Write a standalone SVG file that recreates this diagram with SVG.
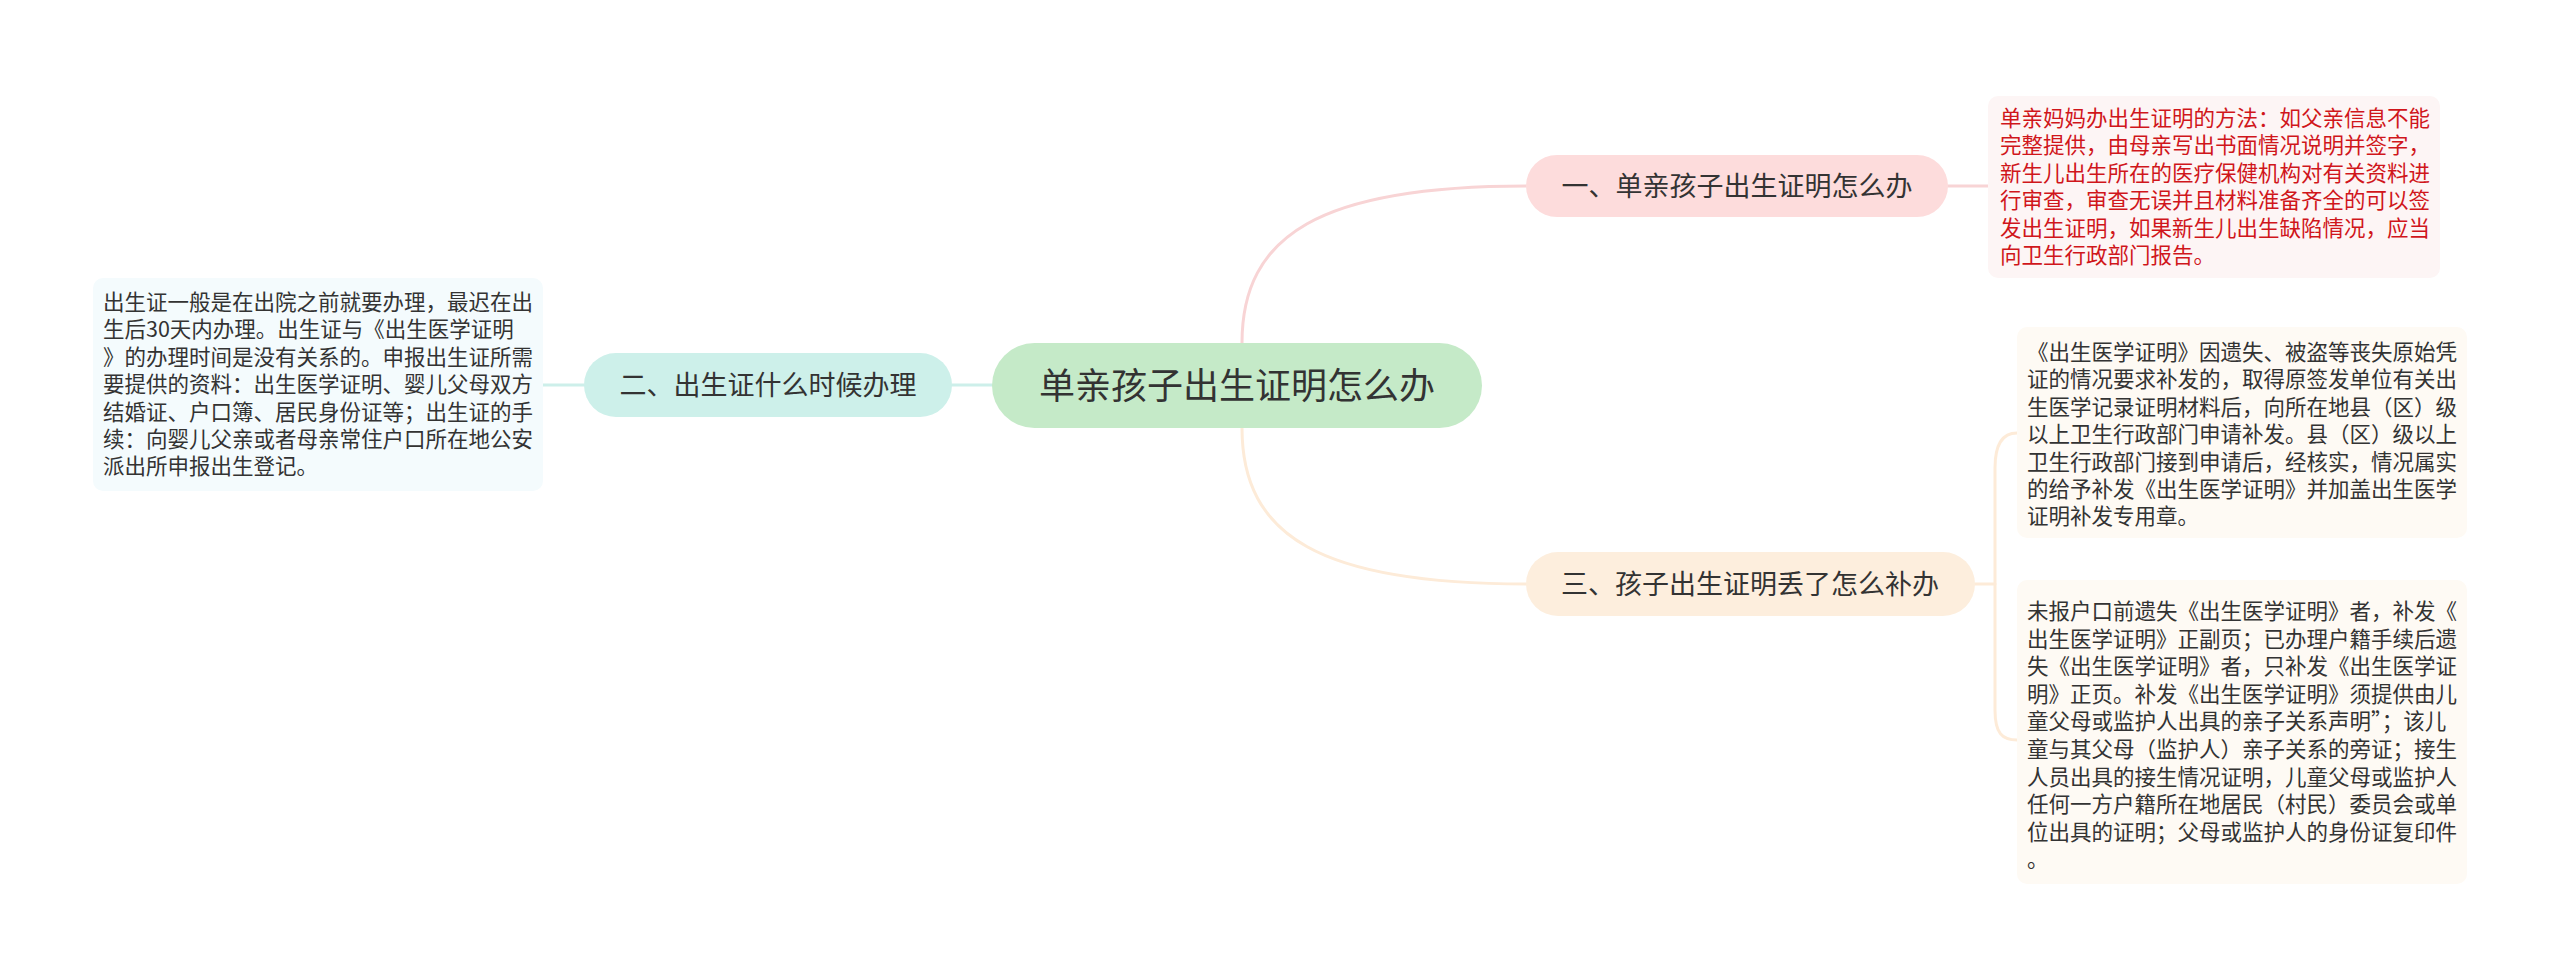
<svg xmlns="http://www.w3.org/2000/svg" width="2560" height="977" viewBox="0 0 2560 977">
<style>
text{font-family:"Noto Sans CJK SC","Noto Sans",sans-serif;}
.main{font-size:36px;fill:#333;text-anchor:middle;}
.sub{font-size:27px;fill:#333;text-anchor:middle;}
.leaf{font-size:21.5px;fill:#333;}
.red{fill:#d0161b;}
.c{fill:none;stroke-width:3;stroke-linecap:round;}
</style>
<rect width="2560" height="977" fill="#fff"/>
<g id="connectors">
<path class="c" stroke="#f8d4d5" d="M1242 343 C1242 235 1320 186 1526 186"/>
<path class="c" stroke="#fdebd8" d="M1242 428 C1242 536 1320 584 1526 584"/>
<path class="c" stroke="#cdefea" d="M992 385 L952 385"/>
<path class="c" stroke="#cdefea" d="M584 385 L543 385"/>
<path class="c" stroke="#f8d4d5" d="M1948 186 L1988 186"/>
<path class="c" stroke="#fdebd8" d="M1975 584 L1995 584"/>
<path class="c" stroke="#fdebd8" d="M2017 433 C2002 433 1995 445 1995 468 L1995 710 C1995 733 2002 740 2017 740"/>
</g>
<g id="root">
<rect x="992" y="343" width="490" height="85" rx="42.5" fill="#c5eac8"/>
<text class="main" x="1237" y="399">单亲孩子出生证明怎么办</text>
</g>
<g id="node1">
<rect x="1526" y="155" width="422" height="62" rx="31" fill="#fddcdc"/>
<text class="sub" x="1737" y="196">一、单亲孩子出生证明怎么办</text>
</g>
<g id="node2">
<rect x="584" y="353" width="368" height="64" rx="32" fill="#cdf0ea"/>
<text class="sub" x="768" y="395">二、出生证什么时候办理</text>
</g>
<g id="node3">
<rect x="1526" y="552" width="449" height="64" rx="32" fill="#fdeedd"/>
<text class="sub" x="1750" y="594">三、孩子出生证明丢了怎么补办</text>
</g>
<g id="leaf1">
<rect x="1988" y="96" width="452" height="182" rx="10" fill="#fdf5f5"/>
<text class="leaf red">
<tspan x="2000" y="126">单亲妈妈办出生证明的方法：如父亲信息不能</tspan>
<tspan x="2000" y="153.4">完整提供，由母亲写出书面情况说明并签字，</tspan>
<tspan x="2000" y="180.8">新生儿出生所在的医疗保健机构对有关资料进</tspan>
<tspan x="2000" y="208.2">行审查，审查无误并且材料准备齐全的可以签</tspan>
<tspan x="2000" y="235.6">发出生证明，如果新生儿出生缺陷情况，应当</tspan>
<tspan x="2000" y="263">向卫生行政部门报告。</tspan>
</text>
</g>
<g id="leaf2">
<rect x="93" y="278" width="450" height="213" rx="10" fill="#f4fbfd"/>
<text class="leaf">
<tspan x="103" y="310">出生证一般是在出院之前就要办理，最迟在出</tspan>
<tspan x="103" y="337.4">生后30天内办理。出生证与《出生医学证明</tspan>
<tspan x="103" y="364.8">》的办理时间是没有关系的。申报出生证所需</tspan>
<tspan x="103" y="392.2">要提供的资料：出生医学证明、婴儿父母双方</tspan>
<tspan x="103" y="419.6">结婚证、户口簿、居民身份证等；出生证的手</tspan>
<tspan x="103" y="447">续：向婴儿父亲或者母亲常住户口所在地公安</tspan>
<tspan x="103" y="474.4">派出所申报出生登记。</tspan>
</text>
</g>
<g id="leaf3">
<rect x="2017" y="327" width="450" height="211" rx="10" fill="#fefaf4"/>
<text class="leaf">
<tspan x="2027" y="360">《出生医学证明》因遗失、被盗等丧失原始凭</tspan>
<tspan x="2027" y="387.4">证的情况要求补发的，取得原签发单位有关出</tspan>
<tspan x="2027" y="414.8">生医学记录证明材料后，向所在地县（区）级</tspan>
<tspan x="2027" y="442.2">以上卫生行政部门申请补发。县（区）级以上</tspan>
<tspan x="2027" y="469.6">卫生行政部门接到申请后，经核实，情况属实</tspan>
<tspan x="2027" y="497">的给予补发《出生医学证明》并加盖出生医学</tspan>
<tspan x="2027" y="524.4">证明补发专用章。</tspan>
</text>
</g>
<g id="leaf4">
<rect x="2017" y="580" width="450" height="304" rx="10" fill="#fefaf4"/>
<text class="leaf">
<tspan x="2027" y="619">未报户口前遗失《出生医学证明》者，补发《</tspan>
<tspan x="2027" y="646.6">出生医学证明》正副页；已办理户籍手续后遗</tspan>
<tspan x="2027" y="674.2">失《出生医学证明》者，只补发《出生医学证</tspan>
<tspan x="2027" y="701.8">明》正页。补发《出生医学证明》须提供由儿</tspan>
<tspan x="2027" y="729.4">童父母或监护人出具的亲子关系声明”；该儿</tspan>
<tspan x="2027" y="757">童与其父母（监护人）亲子关系的旁证；接生</tspan>
<tspan x="2027" y="784.6">人员出具的接生情况证明，儿童父母或监护人</tspan>
<tspan x="2027" y="812.2">任何一方户籍所在地居民（村民）委员会或单</tspan>
<tspan x="2027" y="839.8">位出具的证明；父母或监护人的身份证复印件</tspan>
<tspan x="2027" y="867.4">。</tspan>
</text>
</g>
</svg>
